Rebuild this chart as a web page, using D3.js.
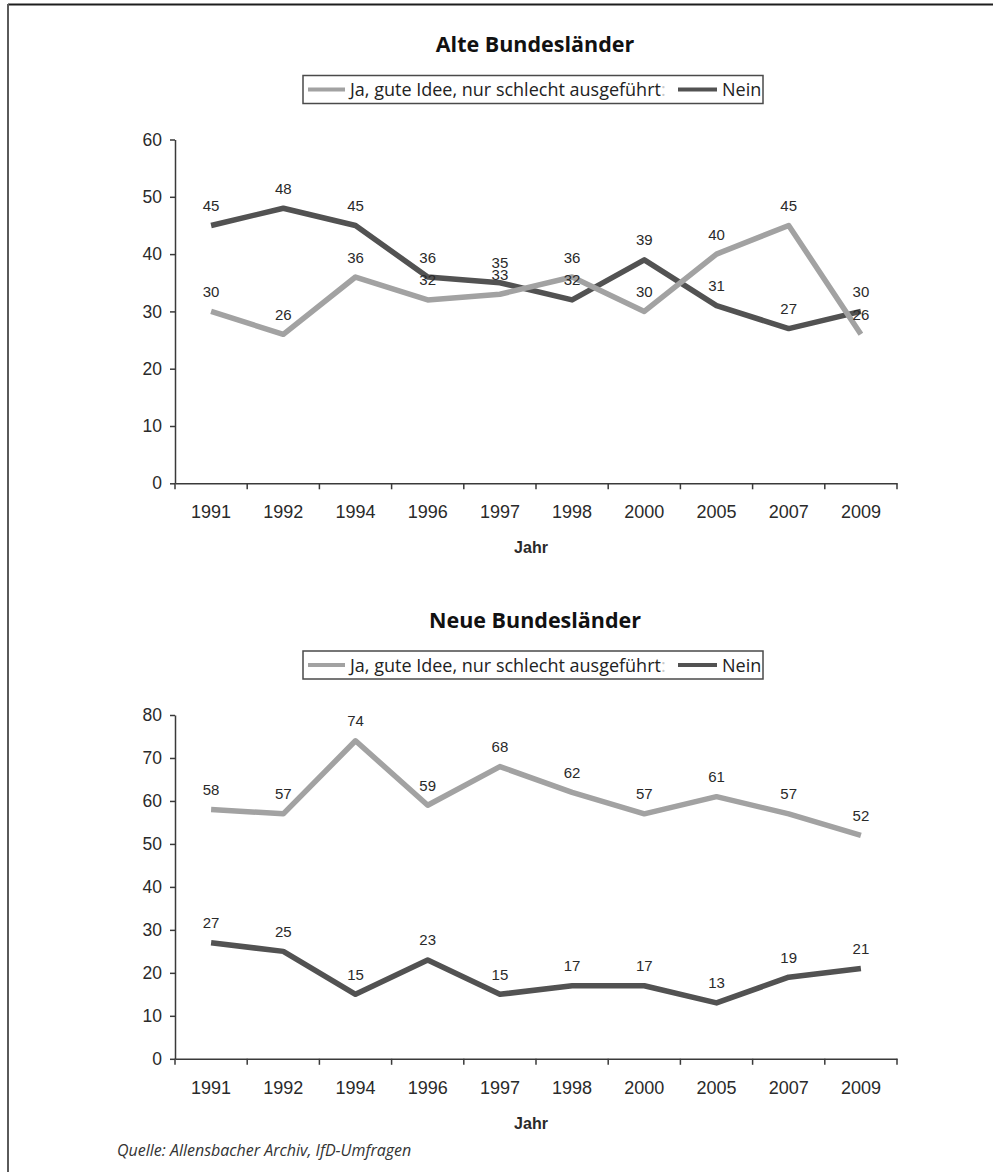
<!DOCTYPE html>
<html><head><meta charset="utf-8">
<script src="https://cdn.jsdelivr.net/npm/d3@7"></script>
<style>
html,body{margin:0;padding:0;background:#fff;}
svg{display:block;}
</style></head>
<body>
<script>
const years = ["1991","1992","1994","1996","1997","1998","2000","2005","2007","2009"];
const alteJa   = [30,26,36,32,33,36,30,40,45,26];
const alteNein = [45,48,45,36,35,32,39,31,27,30];
const neueJa   = [58,57,74,59,68,62,57,61,57,52];
const neueNein = [27,25,15,23,15,17,17,13,19,21];
const alteTicks = [0,10,20,30,40,50,60];
const neueTicks = [0,10,20,30,40,50,60,70,80];
const titles = ["Alte Bundesländer","Neue Bundesländer"];
const seriesNames = ["Ja, gute Idee, nur schlecht ausgeführt","Nein"];
const xTitle = "Jahr";
const source = "Quelle: Allensbacher Archiv, IfD-Umfragen";

const W = 995, H = 1172;
const colJa = "#a2a2a2", colNein = "#525252", axisCol = "#3a3a3a", txt = "#2a2a2a";

const svg = d3.select("body").append("svg").attr("width", W).attr("height", H);

// frame
svg.append("line").attr("x1",8).attr("x2",993).attr("y1",4.5).attr("y2",4.5).attr("stroke","#1e1e1e").attr("stroke-width",2);
svg.append("line").attr("x1",8).attr("x2",8).attr("y1",4).attr("y2",H).attr("stroke","#5a5a5a").attr("stroke-width",2);

function drawChart(offY, title, ja, nein, ticks) {
  const g = svg.append("g").attr("transform", `translate(0,${offY})`);
  const x0 = 175, x1 = 897, yTop = 139.5, yBot = 483.3;
  const x = d3.scaleBand().domain(years).range([x0, x1]);
  const y = d3.scaleLinear().domain([0, d3.max(ticks)]).range([yBot, yTop]);

  // title
  g.append("text").attr("x", 535).attr("y", 52).attr("text-anchor","middle")
    .attr("font-family","'Open Sans'").attr("font-weight","bold").attr("font-size",21.5)
    .attr("fill","#111").text(title);

  // legend
  const lg = g.append("g");
  lg.append("rect").attr("x",303).attr("y",75.5).attr("width",460).attr("height",28)
    .attr("fill","#fff").attr("stroke","#4a4a4a").attr("stroke-width",1.5);
  lg.append("line").attr("x1",308).attr("x2",345).attr("y1",89.5).attr("y2",89.5).attr("stroke",colJa).attr("stroke-width",4);
  const t1 = lg.append("text").attr("x",350).attr("y",96)
    .attr("font-family","'Open Sans'").attr("font-size",18).attr("fill","#222");
  t1.append("tspan").text(seriesNames[0]);
  t1.append("tspan").attr("fill","#c8c8c8").text(":");
  lg.append("line").attr("x1",678).attr("x2",717).attr("y1",89.5).attr("y2",89.5).attr("stroke",colNein).attr("stroke-width",4);
  lg.append("text").attr("x",722).attr("y",96)
    .attr("font-family","'Open Sans'").attr("font-size",18).attr("fill","#222").text(seriesNames[1]);

  // y axis
  const ya = g.append("g").attr("transform",`translate(${x0},0)`)
    .call(d3.axisLeft(y).tickValues(ticks).tickSize(5).tickSizeOuter(0).tickPadding(8));
  ya.select(".domain").attr("stroke",axisCol).attr("stroke-width",1.5);
  ya.selectAll(".tick line").attr("stroke",axisCol).attr("stroke-width",1.5);
  ya.selectAll(".tick text").attr("font-family","'Liberation Sans'").attr("font-size",17.5).attr("fill",txt);

  // x axis
  const xa = g.append("g").attr("transform",`translate(0,${yBot})`)
    .call(d3.axisBottom(x).tickSize(0).tickSizeOuter(0).tickPadding(22));
  xa.select(".domain").attr("stroke",axisCol).attr("stroke-width",1.5);
  xa.selectAll(".tick text").attr("font-family","'Liberation Sans'").attr("font-size",18).attr("fill",txt);
  const bounds = years.map(d => x(d)).concat([x.range()[1]]);
  xa.selectAll(".bt").data(bounds).enter().append("line").attr("class","bt")
    .attr("x1",d=>d).attr("x2",d=>d).attr("y1",0).attr("y2",6)
    .attr("stroke",axisCol).attr("stroke-width",1.5);

  g.append("text").attr("x",531).attr("y",yBot+70).attr("text-anchor","middle")
    .attr("font-family","'Liberation Sans'").attr("font-weight","bold").attr("font-size",16)
    .attr("fill",txt).text(xTitle);

  const cx = d => x(d) + x.bandwidth()/2;
  const line = d3.line().x((d,i)=>cx(years[i])).y(d=>y(d));

  g.append("path").datum(nein).attr("d",line).attr("fill","none")
    .attr("stroke",colNein).attr("stroke-width",5.5).attr("stroke-linejoin","round");
  g.append("path").datum(ja).attr("d",line).attr("fill","none")
    .attr("stroke",colJa).attr("stroke-width",5.5).attr("stroke-linejoin","round");

  [ja, nein].forEach(arr => {
    g.selectAll(null).data(arr).enter().append("text")
      .attr("x",(d,i)=>cx(years[i])).attr("y",d=>y(d)-14.5)
      .attr("text-anchor","middle").attr("font-family","'Liberation Sans'")
      .attr("font-size",15).attr("fill",txt).text(d=>d);
  });
}

drawChart(0, titles[0], alteJa, alteNein, alteTicks);
drawChart(575.5, titles[1], neueJa, neueNein, neueTicks);

svg.append("text").attr("x",117).attr("y",1156)
  .attr("font-family","'Open Sans'").attr("font-style","italic").attr("font-size",16)
  .attr("fill","#333").text(source);
</script>
</body></html>
